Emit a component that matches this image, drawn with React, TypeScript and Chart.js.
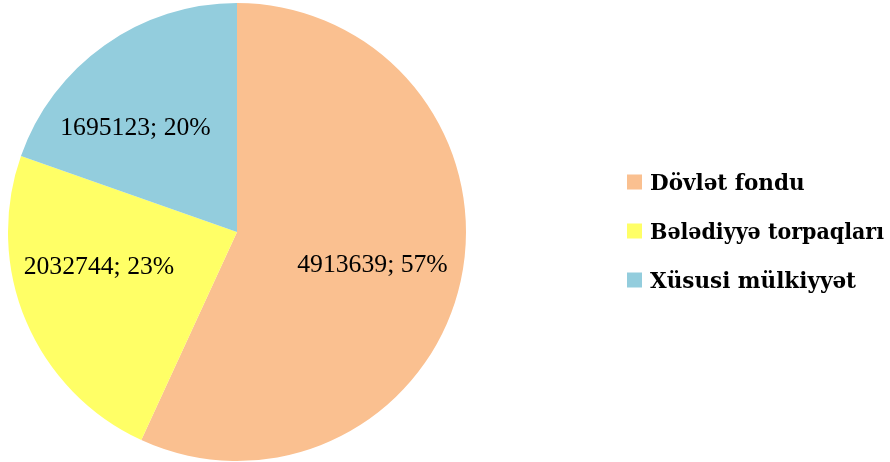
import React, { useEffect, useRef } from "react";
import { Chart, registerables } from "chart.js";

Chart.register(...registerables);

const categories = ["Dövlət fondu", "Bələdiyyə torpaqları", "Xüsusi mülkiyyət"];
const values = [4913639, 2032744, 1695123];
const percentLabels = ["57%", "23%", "20%"];
const colors = ["#FAC090", "#FFFF66", "#93CDDD"];

// label placement tweaks (best-fit style), in degrees and radius fraction
const labelAngleOffset = [0.55, 9.45, -8.7];
const labelRadiusFactor = [0.607, 0.62, 0.638];

const labelFont = "25.7px 'Liberation Serif', serif";
const legendFont = "bold 21.5px 'DejaVu Serif', serif";

const labelsPlugin = {
  id: "sliceLabels",
  afterDatasetsDraw(chart: any) {
    const ctx = chart.ctx;
    const meta = chart.getDatasetMeta(0);
    ctx.save();
    ctx.font = labelFont;
    ctx.fillStyle = "#000000";
    ctx.textAlign = "center";
    ctx.textBaseline = "alphabetic";
    meta.data.forEach((arc: any, i: number) => {
      const p = arc.getProps(["x", "y", "startAngle", "endAngle", "outerRadius"], true);
      const mid = (p.startAngle + p.endAngle) / 2 + (labelAngleOffset[i] * Math.PI) / 180;
      const r = p.outerRadius * labelRadiusFactor[i];
      const x = p.x + Math.cos(mid) * r;
      const y = p.y + Math.sin(mid) * r;
      ctx.fillText(`${values[i]}; ${percentLabels[i]}`, x, y + 8.5);
    });
    ctx.restore();
  },
};

const legendPlugin = {
  id: "customLegend",
  afterDraw(chart: any) {
    const ctx = chart.ctx;
    const area = chart.chartArea;
    const centerY = (area.top + area.bottom) / 2 - 1;
    const rowGap = 49;
    const boxX = area.right + 161;
    const box = 15;
    ctx.save();
    ctx.font = legendFont;
    ctx.textAlign = "left";
    ctx.textBaseline = "alphabetic";
    categories.forEach((name, i) => {
      const cy = centerY + (i - 1) * rowGap;
      ctx.fillStyle = colors[i];
      ctx.fillRect(boxX, cy - box / 2, box, box);
      ctx.fillStyle = "#000000";
      const tx = boxX + 23;
      ctx.fillText(name, tx, cy + 8, chart.width - tx - 6);
    });
    ctx.restore();
  },
};

export default function App() {
  const ref = useRef<HTMLCanvasElement | null>(null);
  useEffect(() => {
    if (!ref.current) return;
    const chart = new Chart(ref.current, {
      type: "pie",
      data: {
        labels: categories,
        datasets: [
          {
            data: values,
            backgroundColor: colors,
            borderWidth: 0,
          },
        ],
      },
      options: {
        responsive: false,
        animation: false,
        layout: { padding: { left: 8, top: 3, right: 424, bottom: 1 } },
        plugins: {
          legend: { display: false },
          tooltip: { enabled: false },
        },
      },
      plugins: [labelsPlugin, legendPlugin],
    });
    return () => chart.destroy();
  }, []);
  return (
    <div style={{ position: "fixed", left: 0, top: 0, width: 890, height: 462, background: "#ffffff" }}>
      <canvas ref={ref} width={890} height={462} style={{ display: "block" }} />
    </div>
  );
}
